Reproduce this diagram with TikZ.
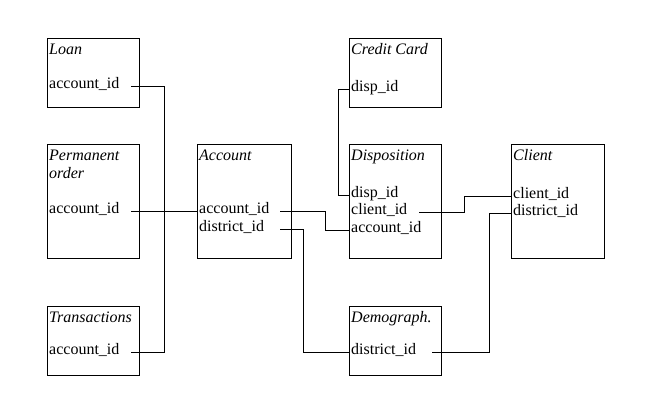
\documentclass[tikz,border=0pt]{standalone}
\usepackage{fontspec}
\setmainfont{Liberation Serif}
\usetikzlibrary{calc}

\begin{document}
\begin{tikzpicture}[x=1pt,y=-1pt,
  tbl/.style={draw, line width=0.8pt, anchor=north west, inner sep=0pt, outer sep=0pt},
  ttl/.style={anchor=north west, font=\fontsize{16}{18}\selectfont\itshape, align=left, inner xsep=2pt, inner ysep=5.5pt},
  fld/.style={anchor=mid west, font=\fontsize{16}{18}\selectfont, inner xsep=2pt, inner ysep=0pt},
  link/.style={line width=0.8pt}]
  \fill[white] (0,0) rectangle (653,410);
  % Tables
  \node[tbl, minimum width=92pt, minimum height=69pt] (loan) at (47,38) {};
  \node[tbl, minimum width=92pt, minimum height=114pt] (perm) at (47,144) {};
  \node[tbl, minimum width=92pt, minimum height=69pt] (trans) at (47,306) {};
  \node[tbl, minimum width=94pt, minimum height=114pt] (acct) at (197,144) {};
  \node[tbl, minimum width=92pt, minimum height=69pt] (card) at (349,38) {};
  \node[tbl, minimum width=92pt, minimum height=114pt] (disp) at (349,144) {};
  \node[tbl, minimum width=93pt, minimum height=114pt] (client) at (511,144) {};
  \node[tbl, minimum width=92pt, minimum height=69pt] (demo) at (349,306) {};
  % Titles
  \node[ttl] (loanT) at (loan.north west) {Loan};
  \node[ttl] (permT) at (perm.north west) {Permanent\\order};
  \node[ttl] (transT) at (trans.north west) {Transactions};
  \node[ttl] (acctT) at (acct.north west) {Account};
  \node[ttl] (cardT) at (card.north west) {Credit Card};
  \node[ttl] (dispT) at (disp.north west) {Disposition};
  \node[ttl] (clientT) at (client.north west) {Client};
  \node[ttl] (demoT) at (demo.north west) {Demograph.};
  % Fields
  \node[fld] (loanA) at (47,86) {account\_id};
  \node[fld] (perA) at (47,211) {account\_id};
  \node[fld] (trA) at (47,352) {account\_id};
  \node[fld] (acA) at (197,211) {account\_id};
  \node[fld] (acD) at (197,229) {district\_id};
  \node[fld] (cardD) at (349,89) {disp\_id};
  \node[fld] (dsD) at (349,195) {disp\_id};
  \node[fld] (dsC) at (349,212) {client\_id};
  \node[fld] (dsA) at (349,230) {account\_id};
  \node[fld] (clC) at (511,196) {client\_id};
  \node[fld] (clD) at (511,213) {district\_id};
  \node[fld] (dmD) at (349,352) {district\_id};
  % Vertical runs
  \coordinate (busL) at (164,0);
  \coordinate (jDist) at (303,0);
  \coordinate (jAcc) at (325,0);
  \coordinate (jCard) at (338,0);
  \coordinate (jCli) at (464,0);
  \coordinate (jDem) at (489,0);
  % Links
  \draw[link] ($(loan.east |- loanA.mid)+(-8,0)$) -- (loanA.mid -| busL) -- (trA.mid -| busL) -- ($(trans.east |- trA.mid)+(-8,0)$);
  \draw[link] ($(perm.east |- perA.mid)+(-8,0)$) -- (acA.mid west);
  \draw[link] ($(acct.east |- acA.mid)+(-11,0)$) -- (acA.mid -| jAcc) |- (dsA.mid west);
  \draw[link] ($(acct.east |- acD.mid)+(-11,0)$) -- (acD.mid -| jDist) |- (dmD.mid west);
  \draw[link] (cardD.mid west) -- (cardD.mid -| jCard) |- (dsD.mid west);
  \draw[link] ($(disp.east |- dsC.mid)+(-22,0)$) -- (dsC.mid -| jCli) |- (clC.mid west);
  \draw[link] (clD.mid west) -- (clD.mid -| jDem) |- ($(demo.east |- dmD.mid)+(-9,0)$);
\end{tikzpicture}
\end{document}
